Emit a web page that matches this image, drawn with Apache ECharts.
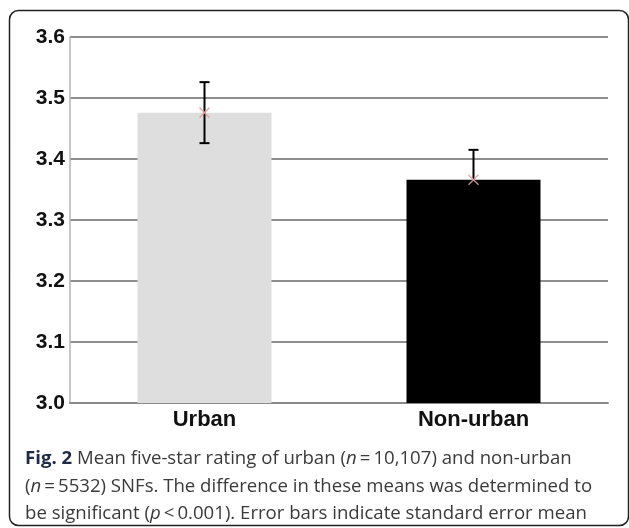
<!DOCTYPE html>
<html>
<head>
<meta charset="utf-8">
<script src="https://cdn.jsdelivr.net/npm/echarts@6/dist/echarts.min.js"></script>
<style>
html,body{margin:0;padding:0;background:#fff;}
#chart{width:629px;height:528px;}
</style>
</head>
<body>
<div id="chart"></div>
<script>
var categories = ['Urban', 'Non-urban'];
var means = [3.476, 3.366];
var stdErrors = [0.050, 0.049];
var barColors = ['#dedede', '#000000'];
var yMin = 3.0, yMax = 3.6, yStep = 0.1;
var captionLines = [
  '{b|Fig. 2} Mean five-star rating of urban ({i|n}\u2009=\u200910,107) and non-urban',
  '({i|n}\u2009=\u20095532) SNFs. The difference in these means was determined to',
  'be significant ({i|p}\u2009<\u20090.001). Error bars indicate standard error mean'
];

var errorData = means.map(function (m, i) { return [i, m - stdErrors[i], m + stdErrors[i], m]; });
var barData = means.map(function (m, i) { return { value: m, itemStyle: { color: barColors[i] } }; });

var chart = echarts.init(document.getElementById('chart'));
chart.setOption({
  animation: false,
  grid: { left: 70, right: 21, top: 37, bottom: 125 },
  xAxis: {
    type: 'category',
    data: categories,
    axisLine: { lineStyle: { color: '#8a8a8a', width: 2 } },
    axisTick: { show: false },
    axisLabel: { color: '#111', fontFamily: 'Liberation Sans, Arial', fontWeight: 'bold', fontSize: 22, margin: 6 }
  },
  yAxis: {
    type: 'value',
    min: yMin, max: yMax, interval: yStep,
    axisLine: { show: true, lineStyle: { color: '#b5b5b5', width: 1.5 } },
    axisTick: { show: false },
    splitLine: { lineStyle: { color: '#8e8e8e', width: 2 } },
    axisLabel: {
      color: '#111', fontFamily: 'Liberation Sans, Arial', fontWeight: 'bold', fontSize: 21, margin: 5,
      formatter: function (v) { return v.toFixed(1); }
    }
  },
  series: [
    {
      type: 'bar',
      data: barData,
      barWidth: 134,
      z: 2
    },
    {
      type: 'custom',
      data: errorData,
      z: 5,
      renderItem: function (params, api) {
        var x = api.value(0);
        var lo = api.coord([x, api.value(1)]);
        var hi = api.coord([x, api.value(2)]);
        var mid = api.coord([x, api.value(3)]);
        var cap = 5, m = 5;
        return {
          type: 'group',
          children: [
            { type: 'line', shape: { x1: hi[0], y1: hi[1], x2: lo[0], y2: lo[1] }, style: { stroke: '#000', lineWidth: 2 } },
            { type: 'line', shape: { x1: hi[0] - cap, y1: hi[1], x2: hi[0] + cap, y2: hi[1] }, style: { stroke: '#000', lineWidth: 2 } },
            { type: 'line', shape: { x1: lo[0] - cap, y1: lo[1], x2: lo[0] + cap, y2: lo[1] }, style: { stroke: '#000', lineWidth: 2 } },
            { type: 'line', shape: { x1: mid[0] - m, y1: mid[1] - m, x2: mid[0] + m, y2: mid[1] + m }, style: { stroke: 'rgba(228,160,160,0.85)', lineWidth: 1.5 } },
            { type: 'line', shape: { x1: mid[0] - m, y1: mid[1] + m, x2: mid[0] + m, y2: mid[1] - m }, style: { stroke: 'rgba(228,160,160,0.85)', lineWidth: 1.5 } }
          ]
        };
      }
    }
  ],
  graphic: [
    {
      type: 'rect',
      shape: { x: 9.5, y: 10.5, width: 619, height: 515, r: 9 },
      style: { fill: 'none', stroke: '#222', lineWidth: 1.5 },
      silent: true
    },
    {
      type: 'text',
      left: 25, top: 445,
      style: {
        text: captionLines.join('\n'),
        fontFamily: 'Open Sans', fontSize: 18.6, lineHeight: 27.5, fill: '#3a3a3a',
        rich: {
          b: { fontFamily: 'Open Sans', fontWeight: 'bold', fontSize: 18.6, fill: '#1f2a44' },
          i: { fontFamily: 'Open Sans', fontStyle: 'italic', fontSize: 18.6, fill: '#3a3a3a' }
        }
      }
    }
  ]
});
</script>
</body>
</html>
